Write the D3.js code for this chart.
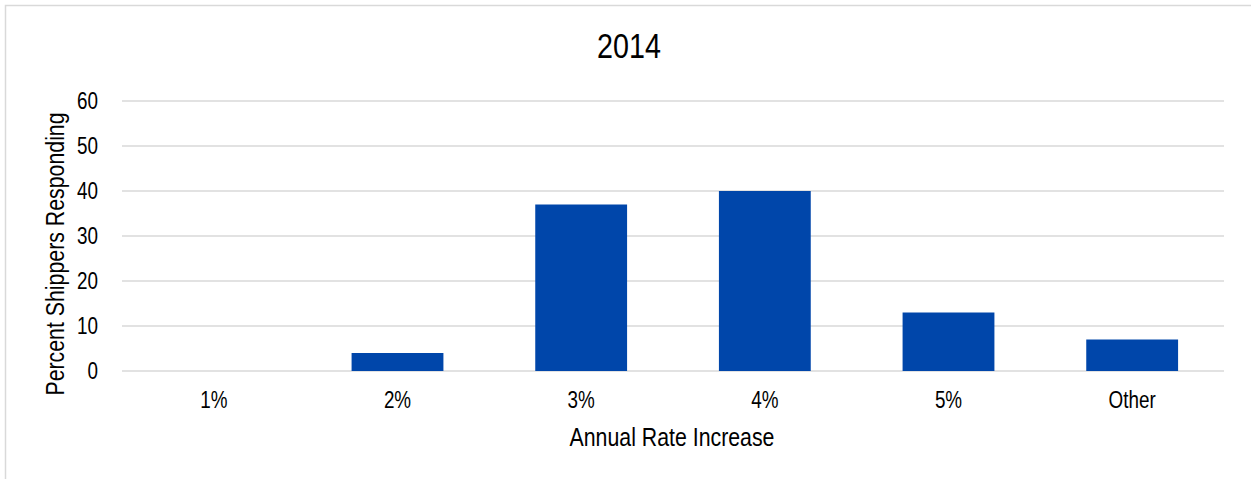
<!DOCTYPE html>
<html>
<head>
<meta charset="utf-8">
<script src="https://cdn.jsdelivr.net/npm/d3@7"></script>
<style>
  body { margin: 0; background: #fff; }
  text { font-family: "Liberation Sans Narrow", "Arial Narrow", "Liberation Sans", Arial, sans-serif; fill: #000; }
</style>
</head>
<body>
<div id="chart-area"></div>
<script>
// Chart data
var categories = ['1%', '2%', '3%', '4%', '5%', 'Other'];
var percents = [0, 4, 37, 40, 13, 7];
var yTicks = [0, 10, 20, 30, 40, 50, 60];

// no narrow face installed, so squeeze regular text sideways
var NARROW = 0.82;

/**
 * RateChart
 * @param _parentElement -- the HTML element in which to draw the visualization
 */
RateChart = function(_parentElement) {
  this.parentElement = _parentElement;
  this.displayData = categories.map(function(c, i) {
    return { label: c, value: percents[i] };
  });

  this.initVisualization();
}

RateChart.prototype.initVisualization = function() {
  var vis = this;

  vis.margin = { top: 101, right: 27, bottom: 108, left: 122 };
  vis.width = 1251 - vis.margin.left - vis.margin.right;
  vis.height = 479 - vis.margin.top - vis.margin.bottom;

  vis.root = d3.select('#' + vis.parentElement)
               .append('svg')
               .attr('width', 1251)
               .attr('height', 479);

  // Outer frame (right and bottom run off the picture)
  vis.root.append('rect')
          .attr('x', 5.5)
          .attr('y', 5.5)
          .attr('width', 1270)
          .attr('height', 500)
          .attr('fill', 'none')
          .attr('stroke', '#d9d9d9')
          .attr('stroke-width', 1.5);

  vis.svg = vis.root.append('g')
               .attr('transform', 'translate(' + vis.margin.left + ',' + vis.margin.top + ')');

  vis.x = d3.scaleBand()
            .domain(categories)
            .range([0, vis.width])
            .paddingInner(0.5)
            .paddingOuter(0.25);

  vis.y = d3.scaleLinear()
            .domain([0, 60])
            .range([vis.height, 0]);

  // Grid lines
  vis.svg.selectAll('.grid')
         .data(yTicks)
         .enter()
         .append('line')
         .attr('class', 'grid')
         .attr('x1', 0)
         .attr('x2', vis.width)
         .attr('y1', function(d) { return vis.y(d); })
         .attr('y2', function(d) { return vis.y(d); })
         .attr('stroke', '#d9d9d9')
         .attr('stroke-width', 1.5);

  // Y axis
  vis.yAxis = d3.axisLeft(vis.y)
                .tickValues(yTicks)
                .tickSize(0)
                .tickPadding(24 / NARROW);

  vis.svg.append('g')
         .attr('class', 'y-axis axis')
         .call(vis.yAxis)
         .call(function(g) { g.select('.domain').remove(); })
         .selectAll('text')
         .style('font-size', '23px')
         .attr('transform', 'scale(' + NARROW + ',1)');

  // X axis
  vis.xAxis = d3.axisBottom(vis.x)
                .tickSize(0)
                .tickPadding(21);

  vis.svg.append('g')
         .attr('class', 'x-axis axis')
         .attr('transform', 'translate(0,' + vis.height + ')')
         .call(vis.xAxis)
         .call(function(g) { g.select('.domain').remove(); })
         .selectAll('text')
         .style('font-size', '23px')
         .attr('transform', 'scale(' + NARROW + ',1)');

  // Bars
  vis.svg.selectAll('.bar')
         .data(vis.displayData)
         .enter()
         .append('rect')
         .attr('class', 'bar')
         .attr('x', function(d) { return vis.x(d.label); })
         .attr('width', vis.x.bandwidth())
         .attr('y', function(d) { return vis.y(d.value); })
         .attr('height', function(d) { return vis.height - vis.y(d.value); })
         .attr('fill', '#0046aa');

  // Title
  vis.root.append('text')
          .attr('transform', 'translate(629,58) scale(' + NARROW + ',1)')
          .attr('text-anchor', 'middle')
          .style('font-size', '35px')
          .text('2014');

  // Axis labels
  vis.root.append('text')
          .attr('transform', 'translate(672,446) scale(' + NARROW + ',1)')
          .attr('text-anchor', 'middle')
          .style('font-size', '26px')
          .text('Annual Rate Increase');

  vis.root.append('text')
          .attr('transform', 'translate(64,254) rotate(-90) scale(' + NARROW + ',1)')
          .attr('text-anchor', 'middle')
          .style('font-size', '26px')
          .text('Percent Shippers Responding');
}

new RateChart('chart-area');
</script>
</body>
</html>
